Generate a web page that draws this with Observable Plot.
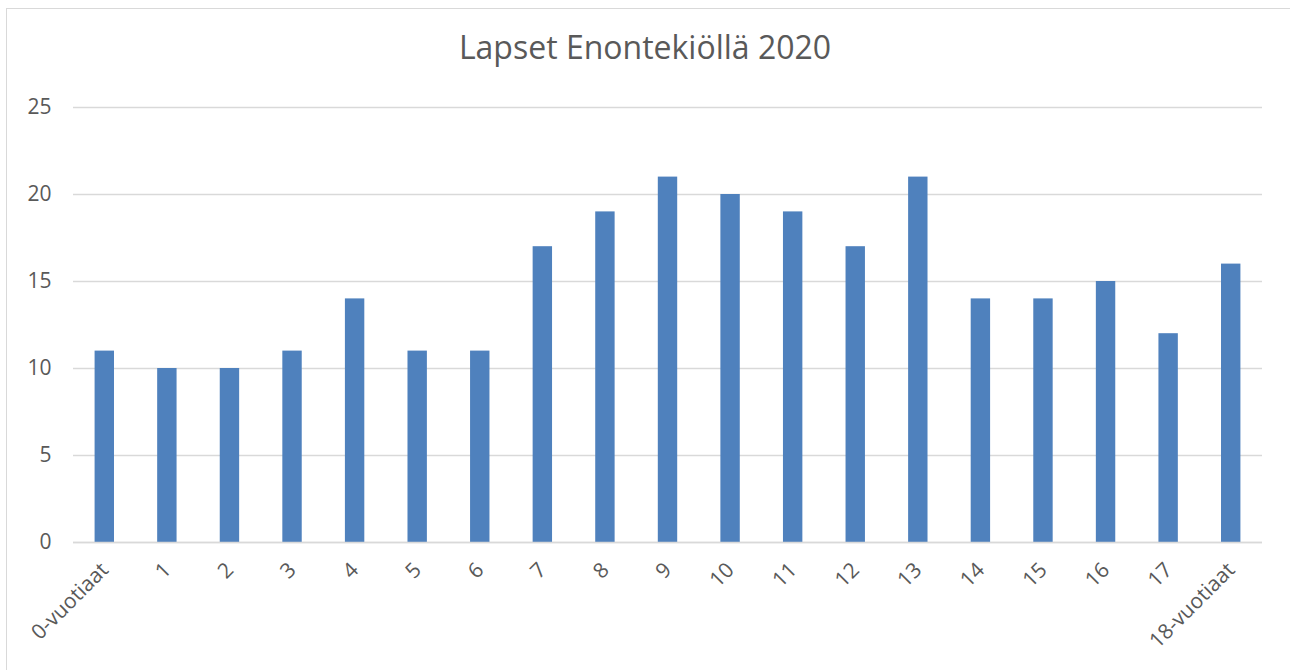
<!DOCTYPE html>
<html>
<head>
<meta charset="utf-8">
<script src="https://cdn.jsdelivr.net/npm/d3@7"></script>
<script src="https://cdn.jsdelivr.net/npm/@observablehq/plot@0.6"></script>
<style>
  html, body { margin: 0; padding: 0; background: #fff; }
  #wrap { position: relative; width: 1290px; height: 670px; overflow: hidden; }
  #border { position: absolute; left: 6px; top: 8px; width: 1300px; height: 700px; border: 1.5px solid #d9d9d9; box-sizing: border-box; }
  #title { position: absolute; left: 0; width: 1290px; top: 26px; text-align: center; font-family: "Open Sans", sans-serif; font-size: 32px; color: #595959; line-height: 42px; }
  #chart { position: absolute; left: 0; top: 0; }
</style>
</head>
<body>
<div id="wrap">
  <div id="border"></div>
  <div id="chart"></div>
  <div id="title">Lapset Enontekiöllä 2020</div>
</div>
<script>
const categories = ["0-vuotiaat","1","2","3","4","5","6","7","8","9","10","11","12","13","14","15","16","17","18-vuotiaat"];
const values = [11,10,10,11,14,11,11,17,19,21,20,19,17,21,14,14,15,12,16];
const yTicks = [0,5,10,15,20,25];

const data = categories.map((c, i) => ({category: c, value: values[i]}));

const chart = Plot.plot({
  width: 1290,
  height: 670,
  marginLeft: 73,
  marginRight: 28,
  marginTop: 107,
  marginBottom: 128,
  style: {fontFamily: "Open Sans, sans-serif", fontSize: "21px", color: "#595959", background: "transparent"},
  x: {domain: categories, paddingInner: 0.69, paddingOuter: 0.345, round: false, label: null},
  y: {domain: [0, 25], label: null},
  marks: [
    Plot.gridY(yTicks, {stroke: "#d9d9d9", strokeOpacity: 1, strokeWidth: 1.3}),
    Plot.barY(data, {x: "category", y: "value", fill: "#4f81bd"}),
    Plot.ruleY([0], {stroke: "#d9d9d9", strokeWidth: 1.5}),
    Plot.axisY(yTicks, {tickSize: 0, tickPadding: 22, fontSize: 21, fill: "#595959", label: null}),
    Plot.axisX({tickSize: 0, tickRotate: -45, tickPadding: 24, fontSize: 21, fill: "#595959", label: null})
  ]
});
document.getElementById("chart").appendChild(chart);
</script>
</body>
</html>
